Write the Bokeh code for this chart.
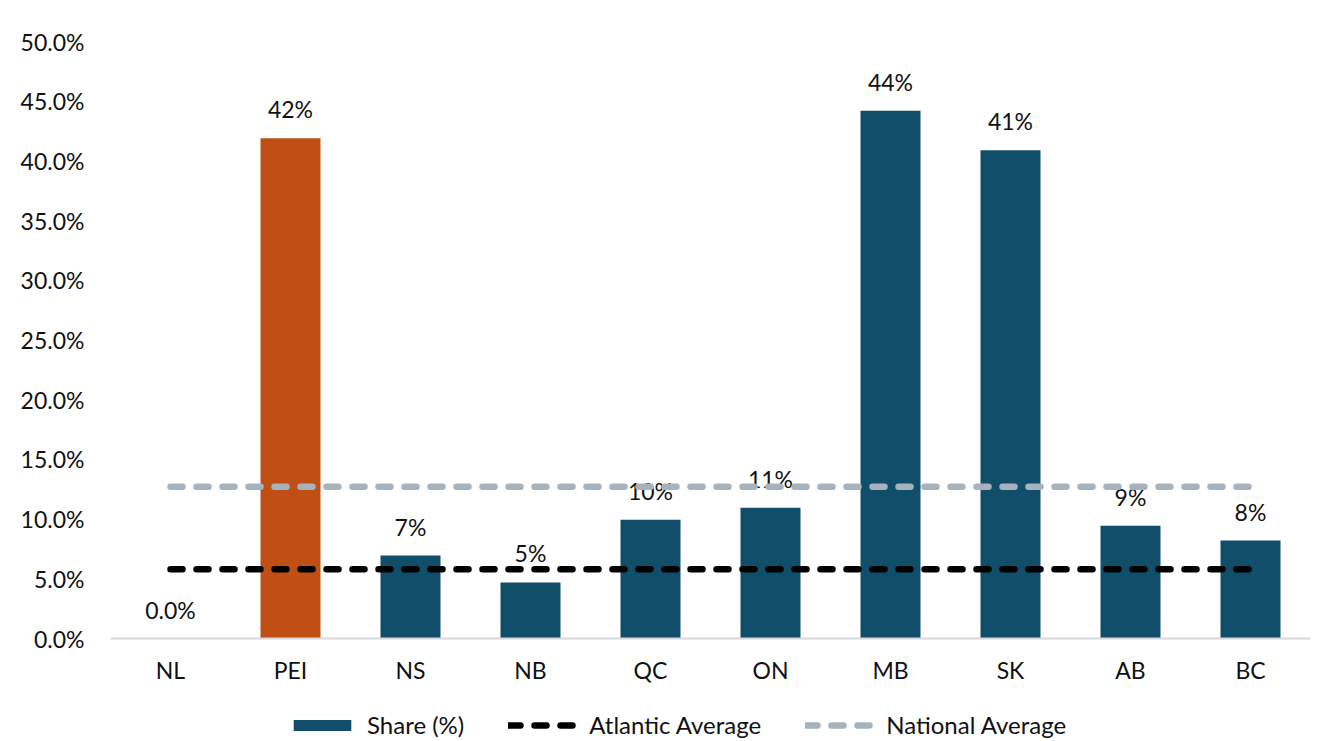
from bokeh.plotting import figure
from bokeh.layouts import column
from bokeh.models import (ColumnDataSource, FixedTicker, PrintfTickFormatter, Legend,
                          LegendItem, Range1d, FactorRange)
from bokeh.core.properties import value
from bokeh.embed import file_html
from bokeh.resources import INLINE

provinces = ["NL", "PEI", "NS", "NB", "QC", "ON", "MB", "SK", "AB", "BC"]
share = [0.0, 41.9, 6.95, 4.7, 9.95, 10.95, 44.2, 40.9, 9.45, 8.2]
bar_labels = ["0.0%", "42%", "7%", "5%", "10%", "11%", "44%", "41%", "9%", "8%"]
atlantic_avg = 5.8
national_avg = 12.7
y_ticks = [0, 5, 10, 15, 20, 25, 30, 35, 40, 45, 50]

TEAL = "#114E6A"
ORANGE = "#C04F15"
GREY_LINE = "#A6B3BE"
colors = [ORANGE if p_ == "PEI" else TEAL for p_ in provinces]

FONT = "Lato"
FS = "23px"
TXT = "#111111"
LW = 6.5
DASH = "12 14"

src = ColumnDataSource(dict(x=provinces, top=share, label=bar_labels, color=colors))

p = figure(width=1330, height=698, x_range=FactorRange(factors=provinces, range_padding=0),
           y_range=Range1d(0, 50), output_backend="svg", toolbar_location=None,
           min_border_left=110, min_border_right=20, min_border_top=41, min_border_bottom=60)
p.outline_line_color = None
p.xgrid.grid_line_color = None
p.ygrid.grid_line_color = None

p.vbar(x="x", top="top", width=0.5, fill_color="color", line_color=None, source=src)

p.text(x="x", y="top", text="label", source=src, text_align="center",
       text_baseline="alphabetic", y_offset=-29, text_font=value(FONT),
       text_font_size=FS, text_color=TXT)

p.line(x=[provinces[0], provinces[-1]], y=[atlantic_avg, atlantic_avg],
       line_color="black", line_width=LW, line_dash=DASH, line_cap="round")
p.line(x=[provinces[0], provinces[-1]], y=[national_avg, national_avg],
       line_color=GREY_LINE, line_width=LW, line_dash=DASH, line_cap="round")

p.yaxis.ticker = FixedTicker(ticks=y_ticks)
p.yaxis.formatter = PrintfTickFormatter(format="%.1f%%")
p.yaxis.axis_line_color = None
p.yaxis.major_tick_line_color = None
p.yaxis.minor_tick_line_color = None
p.yaxis.major_label_standoff = 20
p.yaxis.major_label_text_font = FONT
p.yaxis.major_label_text_font_size = FS
p.yaxis.major_label_text_color = TXT

p.xaxis.axis_line_color = "#D9D9D9"
p.xaxis.axis_line_width = 2
p.xaxis.major_tick_line_color = None
p.xaxis.minor_tick_line_color = None
p.xaxis.major_label_standoff = 11
p.xaxis.major_label_text_font = FONT
p.xaxis.major_label_text_font_size = FS
p.xaxis.major_label_text_color = TXT

# legend strip below the chart (swatch renderers sit outside the visible range)
lg = figure(width=1330, height=42, x_range=Range1d(0, 1), y_range=Range1d(0, 1),
            output_backend="svg", toolbar_location=None,
            min_border_left=0, min_border_right=0, min_border_top=0, min_border_bottom=0)
lg.outline_line_color = None
lg.xaxis.visible = False
lg.yaxis.visible = False
lg.xgrid.grid_line_color = None
lg.ygrid.grid_line_color = None
r_bar = lg.vbar(x=[-50], top=[-50], bottom=[-60], width=0.5, fill_color=TEAL, line_color=None)
r_atl = lg.line(x=[-60, -50], y=[-50, -50], line_color="black", line_width=LW,
                line_dash=DASH, line_cap="round")
r_nat = lg.line(x=[-60, -50], y=[-50, -50], line_color=GREY_LINE, line_width=LW,
                line_dash=DASH, line_cap="round")

legend = Legend(items=[LegendItem(label="Share (%)", renderers=[r_bar]),
                       LegendItem(label="Atlantic Average", renderers=[r_atl]),
                       LegendItem(label="National Average", renderers=[r_nat])],
                orientation="horizontal", location=(176, 1))
legend.border_line_color = None
legend.background_fill_alpha = 0
legend.glyph_width = 72
legend.glyph_height = 14
legend.label_standoff = 9
legend.spacing = 44
legend.padding = 2
legend.margin = 0
legend.label_text_font = FONT
legend.label_text_font_size = "24px"
legend.label_text_color = TXT
lg.add_layout(legend)

open("out.html", "w").write(file_html(column(p, lg, spacing=0), INLINE))
